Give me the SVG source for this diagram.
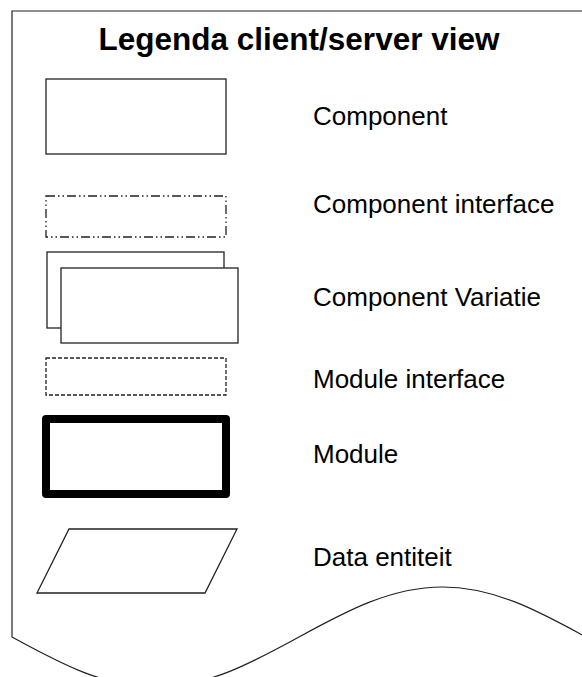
<svg xmlns="http://www.w3.org/2000/svg" width="582" height="677" viewBox="0 0 582 677">
  <style>
    .sheet { fill: #ffffff; stroke: #222222; stroke-width: 1.2; }
    .shape { fill: #ffffff; stroke: #222222; stroke-width: 1.3; }
    .dashdot { stroke-dasharray: 9 3 1.5 3 1.5 3; }
    .dashed { stroke-dasharray: 4 2; }
    .heavy { fill: #ffffff; stroke: #000000; stroke-width: 8; stroke-linejoin: round; }
    .title { font-family: "Liberation Sans", Arial, sans-serif; font-weight: bold; font-size: 31.5px; fill: #000000; }
    .label { font-family: "Liberation Sans", Arial, sans-serif; font-size: 26px; fill: #000000; }
  </style>

  <rect width="582" height="677" fill="#ffffff"/>

  <!-- document sheet with wavy bottom edge -->
  <g id="sheet">
    <path class="sheet" d="M12,11 V637 C58.8,662.6 103.6,687 155.5,687 C207.4,687 252.2,662.6 299,637 C345.8,611.4 390.6,587 442.5,587 C494.4,587 539.2,611.4 586,637 L590,639 V11 Z"/>
    <text class="title" x="299" y="50" text-anchor="middle">Legenda client/server view</text>
  </g>

  <g id="component">
    <rect class="shape" x="46" y="79" width="180" height="75"/>
    <text class="label" x="313" y="125">Component</text>
  </g>

  <g id="component-interface">
    <rect class="shape dashdot" x="46" y="196" width="180" height="41"/>
    <text class="label" x="313" y="213">Component interface</text>
  </g>

  <g id="component-variatie">
    <rect class="shape" x="47" y="252" width="177" height="76"/>
    <rect class="shape" x="61" y="268" width="177" height="75"/>
    <text class="label" x="313" y="306">Component Variatie</text>
  </g>

  <g id="module-interface">
    <rect class="shape dashed" x="46" y="358" width="180" height="37"/>
    <text class="label" x="313" y="388">Module interface</text>
  </g>

  <g id="module">
    <rect class="heavy" x="46" y="419" width="180" height="75"/>
    <text class="label" x="313" y="463">Module</text>
  </g>

  <g id="data-entiteit">
    <polygon class="shape" points="69,529 237,529 205,593 37,593"/>
    <text class="label" x="313" y="566">Data entiteit</text>
  </g>

  <g id="connectors"/>
</svg>
